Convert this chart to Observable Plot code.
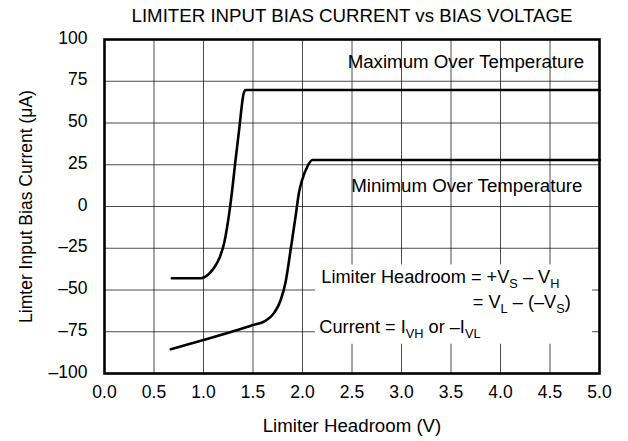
<!DOCTYPE html>
<html>
<head>
<meta charset="utf-8">
<script src="https://cdn.jsdelivr.net/npm/d3@7"></script>
<script src="https://cdn.jsdelivr.net/npm/@observablehq/plot@0.6"></script>
<style>
  html, body { margin: 0; padding: 0; background: #fff; }
</style>
</head>
<body>
<div id="chart"></div>
<script>
// ---- data ----
const titleText = "LIMITER INPUT BIAS CURRENT vs BIAS VOLTAGE";
const xLabel = "Limiter Headroom (V)";
const yLabel = "Limter Input Bias Current (\u03BCA)";

const xTicks = [0, 0.5, 1, 1.5, 2, 2.5, 3, 3.5, 4, 4.5, 5];
const yTicks = [-100, -75, -50, -25, 0, 25, 50, 75, 100];

// Maximum over temperature
const maxX = [0.68, 0.97, 1.02, 1.07, 1.12, 1.16, 1.21, 1.26, 1.29, 1.32, 1.36, 1.405, 1.425, 5.0];
const maxY = [-43, -43, -42, -39.5, -35.5, -31, -21.5, -4, 10, 26, 46, 67.5, 69.8, 69.8];

// Minimum over temperature
const minX = [0.67, 1.0, 1.5, 1.62, 1.71, 1.78, 1.83, 1.88, 1.93, 1.965, 2.0, 2.05, 2.1, 5.0];
const minY = [-85.5, -80, -71, -68.6, -64, -56, -45, -26, -6, 8.5, 16.5, 24, 27.8, 27.8];

// annotations
const labelText = ["Maximum Over Temperature", "Minimum Over Temperature"];
const labelX = [3.65, 3.66];
const labelY = [86.7, 12.5];

const noteText = ["Limiter Headroom = +V_{S} \u2013 V_{H}", "= V_{L} \u2013 (\u2013V_{S})", "Current = I_{VH} or \u2013I_{VL}"];
const noteX = [2.19, 3.72, 2.17];
const noteY = [-42.6, -57.1, -72.3];

// white box behind the notes
const boxX = [2.13, 4.93];
const boxY = [-82.5, -35];

// ---- build ----
const maxData = maxX.map((x, i) => ({x, y: maxY[i]}));
const minData = minX.map((x, i) => ({x, y: minY[i]}));
const labels = labelText.map((t, i) => ({t, x: labelX[i], y: labelY[i]}));
const notes = noteText.map((t, i) => ({t, x: noteX[i], y: noteY[i]}));

const font = "'Liberation Sans', Arial, Helvetica, sans-serif";
const fsTick = 17.5;
const fs = 18.7;
const fsNote = 18.2;
const yFmt = d => d < 0 ? "\u2013" + Math.abs(d) : String(d);

const plot = Plot.plot({
  width: 628,
  height: 441,
  marginLeft: 104,
  marginRight: 29,
  marginTop: 39,
  marginBottom: 68,
  style: {background: "white", fontFamily: font, fontSize: fsTick + "px", color: "#000"},
  x: {domain: [0, 5], ticks: xTicks, tickFormat: d => d.toFixed(1), tickSize: 0, tickPadding: 12, label: null},
  y: {domain: [-100, 100], ticks: yTicks, tickFormat: yFmt, tickSize: 0, tickPadding: 17, label: null},
  marks: [
    Plot.ruleX(xTicks, {stroke: "#000", strokeOpacity: 0.7, strokeWidth: 1}),
    Plot.ruleY(yTicks, {stroke: "#000", strokeOpacity: 0.7, strokeWidth: 1}),
    Plot.rect([{x1: boxX[0], x2: boxX[1], y1: boxY[0], y2: boxY[1]}], {x1: "x1", x2: "x2", y1: "y1", y2: "y2", fill: "white"}),
    Plot.line(maxData, {x: "x", y: "y", curve: "monotone-x", stroke: "#000", strokeWidth: 2.6}),
    Plot.line(minData, {x: "x", y: "y", curve: "monotone-x", stroke: "#000", strokeWidth: 2.6}),
    Plot.frame({stroke: "#000", strokeWidth: 2.6}),
    Plot.text(labels, {x: "x", y: "y", text: "t", fontSize: fs, fill: "#000"}),
    Plot.text(notes, {x: "x", y: "y", text: "t", textAnchor: "start", fontSize: fsNote, fill: "#000"}),
    Plot.text([titleText], {frameAnchor: "top", lineAnchor: "middle", textAnchor: "middle", dy: -23.5, text: d => d, fontSize: fs, fill: "#000"}),
    Plot.text([xLabel], {frameAnchor: "bottom", lineAnchor: "middle", textAnchor: "middle", dy: 53, text: d => d, fontSize: fs, fill: "#000"}),
    Plot.text([yLabel], {frameAnchor: "left", lineAnchor: "middle", textAnchor: "middle", dx: -78, rotate: -90, text: d => d, fontSize: fsTick, fill: "#000"})
  ]
});

// nudge y tick labels slightly down, as in the reference
const yLabelSet = new Set(yTicks.map(yFmt));
d3.select(plot).selectAll("text")
  .filter(function () { return yLabelSet.has(this.textContent); })
  .attr("y", 4);

// subscripts: turn "_{..}" into real subscript tspans
d3.select(plot).selectAll("text").each(function () {
  const t = this.textContent;
  if (!t.includes("_{")) return;
  const sel = d3.select(this);
  sel.text(null);
  const parts = t.split(/(_\{[^}]*\})/);
  let shifted = false;
  for (const p of parts) {
    if (!p) continue;
    if (p.startsWith("_{")) {
      sel.append("tspan").attr("dy", shifted ? 0 : 5).attr("font-size", "0.7em").text(p.slice(2, -1));
      shifted = true;
    } else {
      sel.append("tspan").attr("dy", shifted ? -5 : 0).text(p);
      shifted = false;
    }
  }
});

document.getElementById("chart").appendChild(plot);
</script>
</body>
</html>
